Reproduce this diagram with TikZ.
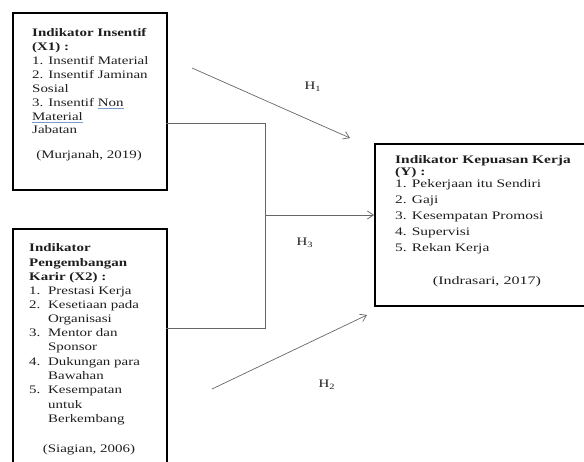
\documentclass[tikz,border=0pt]{standalone}
\usepackage{fontspec}
\setmainfont{Liberation Serif}
\usetikzlibrary{arrows.meta}
\definecolor{ulblue}{HTML}{7A9CC8}
\definecolor{ink}{HTML}{1E1E1E}
\newcommand\bul[1]{{\color{ulblue}$\underline{\hbox{\color{ink}#1}}$}}
\newcommand\itm[2]{\makebox[14.6pt][l]{#1}#2}
\newcommand\sx[1]{\scalebox{1.3}[1]{#1}}
\newcommand\sy[1]{\scalebox{1.34}[1]{#1}}
\begin{document}
\begin{tikzpicture}[x=1pt,y=-1pt,
  box/.style={draw=black,line width=1.6pt,inner sep=0pt},
  txt/.style={anchor=base west,inner sep=0pt,text=ink,font=\fontsize{11.5}{14}\selectfont},
  ctxt/.style={anchor=base,inner sep=0pt,text=ink,font=\fontsize{11.5}{14}\selectfont},
  hlab/.style={inner sep=0pt,text=ink,font=\fontsize{11.5}{14}\selectfont},
  conn/.style={draw=black!60,line width=0.7pt},
  arr/.style={conn,-{Straight Barb[length=6pt,width=8pt]}}]
\useasboundingbox (0,0) rectangle (584,462);
% boxes
\node[box,anchor=north west,minimum width=154pt,minimum height=177pt] (x1) at (12,12) {};
\node[box,anchor=north west,minimum width=154pt,minimum height=260pt] (x2) at (12,228) {};
\node[box,anchor=north west,minimum width=240pt,minimum height=162pt] (y) at (374,143) {};
% X1 text
\foreach \yy/\t [count=\i] in {37/{\textbf{Indikator Insentif}},51/{\textbf{(X1) :}},65/{1. Insentif Material},79/{2. Insentif Jaminan},93/{Sosial},107/{3. Insentif \bul{Non}},121/{\bul{Material}},134/{Jabatan}}
  \node[txt,name=xa\i] at (32,\yy) {\sx{\t}};
\node[ctxt] (xaref) at (89,159) {\sx{(Murjanah, 2019)}};
% X2 text
\foreach \yy/\t [count=\i] in {252/{\textbf{Indikator}},267/{\textbf{Pengembangan}},281/{\textbf{Karir (X2) :}},295/{\itm{1.}{Prestasi Kerja}},309/{\itm{2.}{Kesetiaan pada}},323/{\itm{}{Organisasi}},337/{\itm{3.}{Mentor dan}},351/{\itm{}{Sponsor}},366/{\itm{4.}{Dukungan para}},380/{\itm{}{Bawahan}},394/{\itm{5.}{Kesempatan}},408/{\itm{}{untuk}},422/{\itm{}{Berkembang}}}
  \node[txt,name=xb\i] at (29,\yy) {\sx{\t}};
\node[ctxt] (xbref) at (89,452) {\sx{(Siagian, 2006)}};
% Y text
\foreach \yy/\t [count=\i] in {164/{\textbf{Indikator Kepuasan Kerja}},176/{\textbf{(Y) :}},188/{1. Pekerjaan itu Sendiri},204/{2. Gaji},220/{3. Kesempatan Promosi},236/{4. Supervisi},252/{5. Rekan Kerja}}
  \node[txt,name=ya\i] at (395,\yy) {\sy{\t}};
\node[ctxt] (yaref) at (487,285) {\scalebox{1.4}[1]{(Indrasari, 2017)}};
% connectors
\coordinate (x1o) at (166,123);
\coordinate (x2o) at (166,328);
\coordinate (j) at (265,215);
\draw[conn] (x1o) -| (j);
\draw[conn] (x2o) -| (j);
\draw[arr] (j) -- (j -| y.west);
\coordinate (h1s) at (192,68);
\coordinate (h1e) at (350,138);
\draw[arr] (h1s) -- (h1e);
\coordinate (h2s) at (212,389);
\coordinate (h2e) at (367,315);
\draw[arr] (h2s) -- (h2e);
% labels
\node[hlab] (l1) at (313,87) {\sx{H\textsubscript{1}}};
\node[hlab] (l3) at (305,243) {\sx{H\textsubscript{3}}};
\node[hlab] (l2) at (327,385) {\sx{H\textsubscript{2}}};
\end{tikzpicture}
\end{document}
